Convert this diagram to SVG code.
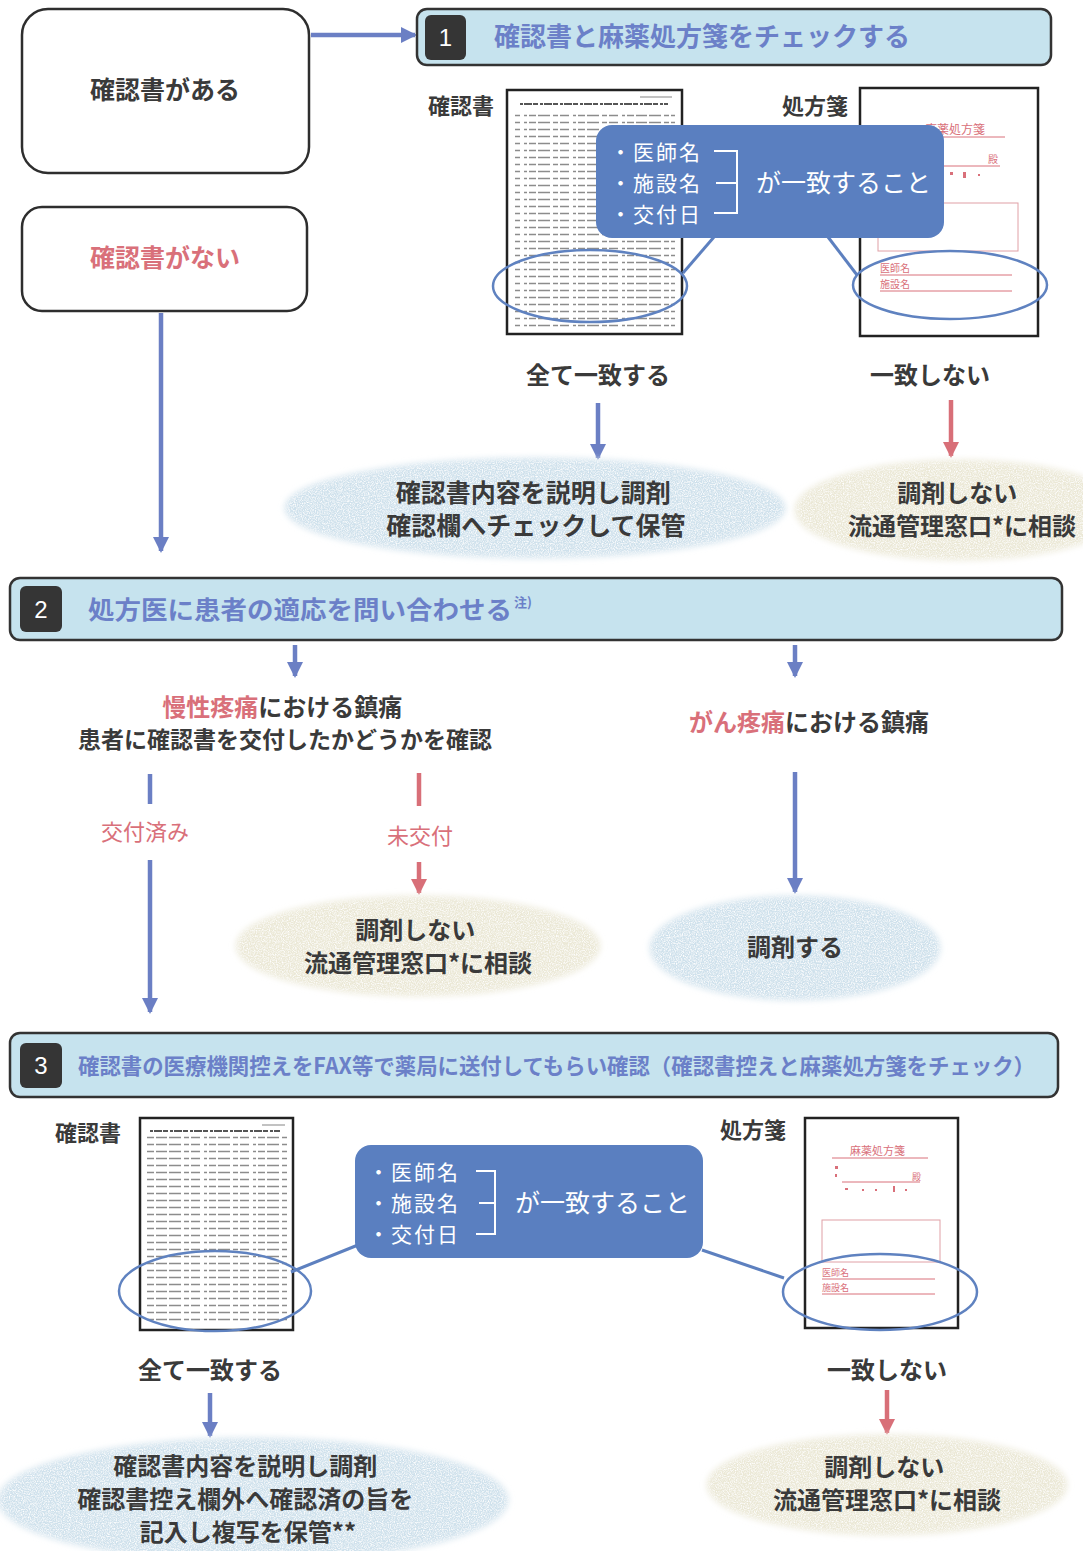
<svg xmlns="http://www.w3.org/2000/svg" width="1083" height="1551" viewBox="0 0 1083 1551">
  <defs>
    <style>
      text { font-family: "Noto Sans CJK JP", "Noto Sans", sans-serif; font-weight: 700; }
      .dark { fill: #3a3a3a; }
      .red { fill: #d9707a; }
      .hdr { fill: #c6e3ee; stroke: #333; stroke-width: 2.5; }
      .num { fill: #353535; }
      .numtxt { fill: #ffffff; font-family: "Liberation Sans", Arial, sans-serif; font-weight: 400; font-size: 24px; }
      .htitle { fill: #6b80c8; }
      .box { fill: #ffffff; stroke: #2e2e2e; stroke-width: 2.5; }
      .doc { fill: #ffffff; stroke: #222; stroke-width: 2.5; }
      .callout { fill: #5a7fc0; }
      .ctxt { fill: #ffffff; font-weight: 400; }
      .item { font-size: 21px; letter-spacing: 2px; }
      .bracket { fill: none; stroke: #ffffff; stroke-width: 2; }
      .pointer { stroke: #5d80bf; stroke-width: 3; fill: none; }
      .ring { fill: none; stroke: #5f82c0; stroke-width: 2.5; }
      .blueline { stroke: #6b7fc4; stroke-width: 4.5; fill: none; }
      .redline { stroke: #d86f78; stroke-width: 4.5; fill: none; }
      .bluesoft { fill: #cfe1ec; }
      .beigesoft { fill: #ebe8d6; }
      .rx { fill: #d9707a; font-weight: 400; }
      .rline { stroke: #d9707a; stroke-width: 1; fill: none; }
      .rdot { fill: #d9707a; }
    </style>
    <marker id="ab" markerUnits="userSpaceOnUse" markerWidth="16" markerHeight="16" refX="14" refY="8" orient="auto">
      <path d="M0,0 L16,8 L0,16 z" fill="#6b7fc4"/>
    </marker>
    <marker id="ar" markerUnits="userSpaceOnUse" markerWidth="16" markerHeight="16" refX="14" refY="8" orient="auto">
      <path d="M0,0 L16,8 L0,16 z" fill="#d86f78"/>
    </marker>
    <!-- speckled print texture for the soft result ellipses -->
    <filter id="grain" x="-5%" y="-10%" width="110%" height="120%">
      <feGaussianBlur in="SourceGraphic" stdDeviation="3" result="soft"/>
      <feTurbulence type="fractalNoise" baseFrequency="0.85" numOctaves="2" seed="3" result="n"/>
      <feColorMatrix in="n" type="matrix" values="0 0 0 0 1  0 0 0 0 1  0 0 0 0 1  0 0 0 -2.2 1.35" result="w"/>
      <feComposite in="w" in2="soft" operator="in" result="ws"/>
      <feMerge><feMergeNode in="soft"/><feMergeNode in="ws"/></feMerge>
    </filter>
    <!-- tiny print lines standing in for document body text -->
    <pattern id="doclines" patternUnits="userSpaceOnUse" width="160" height="7">
      <line x1="0" y1="3.5" x2="160" y2="3.5" stroke="#8c8c8c" stroke-width="1.4" stroke-dasharray="7 2 12 3 5 2 9 4 3 2"/>
    </pattern>
  </defs>

  <rect width="1083" height="1551" fill="#ffffff"/>

  <!-- connectors -->
  <g id="connectors">
    <line class="blueline" x1="311" y1="35" x2="415" y2="35" marker-end="url(#ab)"/>
    <line class="blueline" x1="161" y1="313" x2="161" y2="551" marker-end="url(#ab)"/>
    <line class="blueline" x1="598" y1="403" x2="598" y2="458" marker-end="url(#ab)"/>
    <line class="redline" x1="951" y1="400" x2="951" y2="456" marker-end="url(#ar)"/>
    <line class="blueline" x1="295" y1="645" x2="295" y2="676" marker-end="url(#ab)"/>
    <line class="blueline" x1="795" y1="645" x2="795" y2="676" marker-end="url(#ab)"/>
    <line class="blueline" x1="150" y1="774" x2="150" y2="804"/>
    <line class="blueline" x1="150" y1="860" x2="150" y2="1012" marker-end="url(#ab)"/>
    <line class="redline" x1="419" y1="773" x2="419" y2="806"/>
    <line class="redline" x1="419" y1="862" x2="419" y2="893" marker-end="url(#ar)"/>
    <line class="blueline" x1="795" y1="772" x2="795" y2="892" marker-end="url(#ab)"/>
    <line class="blueline" x1="210" y1="1393" x2="210" y2="1436" marker-end="url(#ab)"/>
    <line class="redline" x1="887" y1="1390" x2="887" y2="1433" marker-end="url(#ar)"/>
  </g>

  <!-- start nodes -->
  <g id="has-confirmation">
    <rect class="box" x="22" y="9" width="287" height="164" rx="26"/>
    <text class="dark" x="165" y="99" font-size="25" text-anchor="middle">確認書がある</text>
  </g>
  <g id="no-confirmation">
    <rect class="box" x="22" y="207" width="285" height="104" rx="20"/>
    <text class="red" x="165" y="267" font-size="25" text-anchor="middle">確認書がない</text>
  </g>

  <!-- step 1 -->
  <g id="step1-header">
    <rect class="hdr" x="417" y="9" width="634" height="56" rx="10"/>
    <rect class="num" x="425" y="15" width="41" height="45" rx="6"/>
    <text class="numtxt" x="445.5" y="46" text-anchor="middle">1</text>
    <text class="htitle" x="494" y="46" font-size="26">確認書と麻薬処方箋をチェックする</text>
  </g>

  <g id="step1-confirmation-doc">
    <text class="dark" x="428" y="114" font-size="22">確認書</text>
    <rect class="doc" x="507" y="90" width="175" height="244"/>
    <line x1="640" y1="97" x2="672" y2="97" stroke="#999" stroke-width="1.2"/>
    <line x1="520" y1="104" x2="668" y2="104" stroke="#555" stroke-width="2" stroke-dasharray="3 1 8 1 5 2"/>
    <rect x="515" y="110" width="160" height="218" fill="url(#doclines)"/>
  </g>

  <g id="step1-prescription-doc">
    <text class="dark" x="782" y="114" font-size="22">処方箋</text>
    <rect class="doc" x="860" y="88" width="178" height="248"/>
    <text class="rx" x="925" y="134" font-size="12">麻薬処方箋</text>
    <line class="rline" x1="925" y1="137" x2="1005" y2="137"/>
    <line class="rline" x1="905" y1="166" x2="1000" y2="166"/>
    <text class="rx" x="988" y="163" font-size="10">殿</text>
    <rect class="rdot" x="950" y="172" width="3" height="3"/>
    <rect class="rdot" x="963" y="172" width="3" height="6"/>
    <rect class="rdot" x="978" y="174" width="2" height="2"/>
    <rect x="878" y="203" width="140" height="48" fill="none" stroke="#e0a0a6" stroke-width="1"/>
    <text class="rx" x="880" y="272" font-size="10">医師名</text>
    <line class="rline" x1="880" y1="275" x2="1012" y2="275"/>
    <text class="rx" x="880" y="288" font-size="10">施設名</text>
    <line class="rline" x1="880" y1="291" x2="1012" y2="291"/>
  </g>

  <g id="step1-check">
    <ellipse class="ring" cx="590" cy="286" rx="97" ry="36"/>
    <ellipse class="ring" cx="950" cy="285" rx="97" ry="34"/>
    <line class="pointer" x1="714" y1="237" x2="683" y2="273"/>
    <line class="pointer" x1="828" y1="237" x2="857" y2="275"/>
    <rect class="callout" x="596" y="125" width="348" height="113" rx="16"/>
    <text class="ctxt item" x="610" y="160">・医師名</text>
    <text class="ctxt item" x="610" y="191">・施設名</text>
    <text class="ctxt item" x="610" y="222">・交付日</text>
    <path class="bracket" d="M714,151 H737 V213 H714 M716,183 H737"/>
    <text class="ctxt" x="756" y="192" font-size="25">が一致すること</text>
  </g>

  <g id="step1-match-label">
    <text class="dark" x="598" y="384" font-size="24" text-anchor="middle">全て一致する</text>
  </g>
  <g id="step1-mismatch-label">
    <text class="dark" x="930" y="384" font-size="24" text-anchor="middle">一致しない</text>
  </g>

  <g id="step1-dispense">
    <ellipse class="bluesoft" cx="535" cy="508" rx="250" ry="50" filter="url(#grain)"/>
    <text class="dark" font-size="25" text-anchor="middle">
      <tspan x="536" y="502">確認書内容を説明し調剤</tspan>
      <tspan x="536" y="535">確認欄へチェックして保管</tspan>
    </text>
  </g>
  <g id="step1-refuse">
    <ellipse class="beigesoft" cx="960" cy="510" rx="165" ry="50" filter="url(#grain)"/>
    <text class="dark" font-size="24" text-anchor="middle">
      <tspan x="960" y="502">調剤しない</tspan>
      <tspan x="962" y="535">流通管理窓口*に相談</tspan>
    </text>
  </g>

  <!-- step 2 -->
  <g id="step2-header">
    <rect class="hdr" x="10" y="578" width="1052" height="62" rx="10"/>
    <rect class="num" x="20" y="586" width="42" height="46" rx="6"/>
    <text class="numtxt" x="41" y="618" text-anchor="middle">2</text>
    <text class="htitle" x="88" y="619" font-size="25" textLength="424" lengthAdjust="spacingAndGlyphs">処方医に患者の適応を問い合わせる</text>
    <text class="htitle" x="514" y="607" font-size="13">注)</text>
  </g>

  <g id="chronic-pain">
    <text font-size="24" text-anchor="middle">
      <tspan x="285" y="716"><tspan class="red">慢性疼痛</tspan><tspan class="dark">における鎮痛</tspan></tspan>
      <tspan class="dark" x="285" y="748" font-size="23">患者に確認書を交付したかどうかを確認</tspan>
    </text>
  </g>
  <g id="cancer-pain">
    <text x="809" y="731" font-size="24" text-anchor="middle"><tspan class="red">がん疼痛</tspan><tspan class="dark">における鎮痛</tspan></text>
  </g>

  <g id="label-issued">
    <text class="red" x="145" y="840" font-size="22" text-anchor="middle" style="font-weight:400">交付済み</text>
  </g>
  <g id="label-not-issued">
    <text class="red" x="420" y="844" font-size="22" text-anchor="middle" style="font-weight:400">未交付</text>
  </g>

  <g id="step2-refuse">
    <ellipse class="beigesoft" cx="418" cy="946" rx="182" ry="50" filter="url(#grain)"/>
    <text class="dark" font-size="24" text-anchor="middle">
      <tspan x="418" y="939">調剤しない</tspan>
      <tspan x="418" y="972">流通管理窓口*に相談</tspan>
    </text>
  </g>
  <g id="step2-dispense">
    <ellipse class="bluesoft" cx="795" cy="948" rx="145" ry="52" filter="url(#grain)"/>
    <text class="dark" x="795" y="956" font-size="24" text-anchor="middle">調剤する</text>
  </g>

  <!-- step 3 -->
  <g id="step3-header">
    <rect class="hdr" x="10" y="1033" width="1048" height="64" rx="10"/>
    <rect class="num" x="20" y="1043" width="42" height="45" rx="6"/>
    <text class="numtxt" x="41" y="1074" text-anchor="middle">3</text>
    <text class="htitle" x="78" y="1074" font-size="22" textLength="957" lengthAdjust="spacingAndGlyphs">確認書の医療機関控えをFAX等で薬局に送付してもらい確認（確認書控えと麻薬処方箋をチェック）</text>
  </g>

  <g id="step3-confirmation-doc">
    <text class="dark" x="55" y="1141" font-size="22">確認書</text>
    <rect class="doc" x="140" y="1118" width="153" height="212"/>
    <line x1="262" y1="1125" x2="285" y2="1125" stroke="#999" stroke-width="1.2"/>
    <line x1="150" y1="1131" x2="280" y2="1131" stroke="#555" stroke-width="2" stroke-dasharray="3 1 8 1 5 2"/>
    <rect x="147" y="1136" width="140" height="188" fill="url(#doclines)"/>
  </g>

  <g id="step3-prescription-doc">
    <text class="dark" x="720" y="1138" font-size="22">処方箋</text>
    <rect class="doc" x="805" y="1118" width="153" height="210"/>
    <text class="rx" x="850" y="1155" font-size="11">麻薬処方箋</text>
    <line class="rline" x1="832" y1="1158" x2="928" y2="1158"/>
    <rect class="rdot" x="835" y="1166" width="3" height="3"/>
    <rect class="rdot" x="835" y="1174" width="2" height="3"/>
    <line class="rline" x1="842" y1="1182" x2="920" y2="1182"/>
    <text class="rx" x="912" y="1180" font-size="9">殿</text>
    <rect class="rdot" x="845" y="1188" width="3" height="2"/>
    <rect class="rdot" x="862" y="1189" width="2" height="2"/>
    <rect class="rdot" x="875" y="1189" width="2" height="2"/>
    <rect class="rdot" x="893" y="1186" width="2" height="6"/>
    <rect class="rdot" x="905" y="1189" width="2" height="2"/>
    <rect x="822" y="1220" width="118" height="42" fill="none" stroke="#e0a0a6" stroke-width="1"/>
    <text class="rx" x="822" y="1276" font-size="9">医師名</text>
    <line class="rline" x1="822" y1="1279" x2="935" y2="1279"/>
    <text class="rx" x="822" y="1291" font-size="9">施設名</text>
    <line class="rline" x1="822" y1="1294" x2="935" y2="1294"/>
  </g>

  <g id="step3-check">
    <ellipse class="ring" cx="215" cy="1291" rx="96" ry="40"/>
    <ellipse class="ring" cx="880" cy="1292" rx="97" ry="38"/>
    <line class="pointer" x1="358" y1="1245" x2="291" y2="1272"/>
    <line class="pointer" x1="702" y1="1250" x2="784" y2="1278"/>
    <rect class="callout" x="355" y="1145" width="348" height="113" rx="16"/>
    <text class="ctxt item" x="368" y="1180">・医師名</text>
    <text class="ctxt item" x="368" y="1211">・施設名</text>
    <text class="ctxt item" x="368" y="1242">・交付日</text>
    <path class="bracket" d="M476,1171 H495 V1234 H476 M479,1203 H495"/>
    <text class="ctxt" x="515" y="1212" font-size="25">が一致すること</text>
  </g>

  <g id="step3-match-label">
    <text class="dark" x="210" y="1379" font-size="24" text-anchor="middle">全て一致する</text>
  </g>
  <g id="step3-mismatch-label">
    <text class="dark" x="887" y="1379" font-size="24" text-anchor="middle">一致しない</text>
  </g>

  <g id="step3-dispense">
    <ellipse class="bluesoft" cx="253" cy="1500" rx="255" ry="62" filter="url(#grain)"/>
    <text class="dark" font-size="24" text-anchor="middle">
      <tspan x="248" y="1475">確認書内容を説明し調剤</tspan>
      <tspan x="248" y="1508">確認書控え欄外へ確認済の旨を</tspan>
      <tspan x="248" y="1541">記入し複写を保管**</tspan>
    </text>
  </g>
  <g id="step3-refuse">
    <ellipse class="beigesoft" cx="887" cy="1485" rx="180" ry="50" filter="url(#grain)"/>
    <text class="dark" font-size="24" text-anchor="middle">
      <tspan x="887" y="1476">調剤しない</tspan>
      <tspan x="887" y="1509">流通管理窓口*に相談</tspan>
    </text>
  </g>
</svg>
